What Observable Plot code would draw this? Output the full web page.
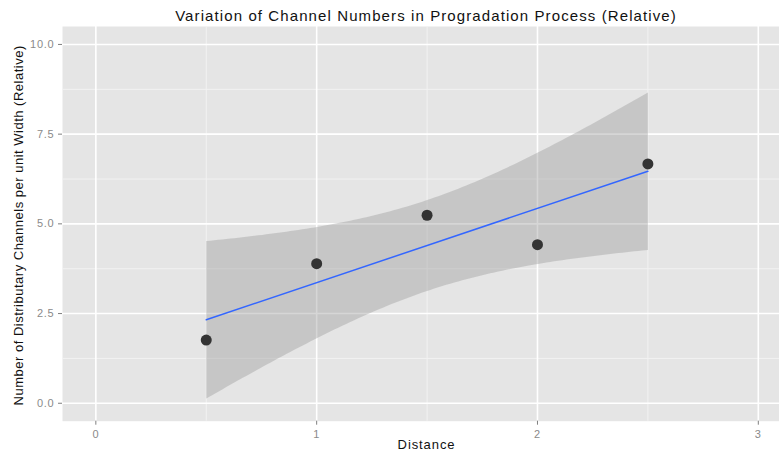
<!DOCTYPE html>
<html><head><meta charset="utf-8">
<script src="https://cdn.jsdelivr.net/npm/d3@7"></script>
<script src="https://cdn.jsdelivr.net/npm/@observablehq/plot@0.6"></script>
<style>
body{margin:0;background:#fff;font-family:"Liberation Sans",Arial,sans-serif;}
#title{box-sizing:border-box;width:779px;height:26px;padding-left:73px;padding-top:8px;line-height:15px;font-size:15px;letter-spacing:1.1px;text-align:center;color:#111;white-space:nowrap;}
svg{display:block;}
</style></head><body>
<div id="title">Variation of Channel Numbers in Progradation Process (Relative)</div>
<div id="chart"></div>
<script>
const distance = [0.5, 1, 1.5, 2, 2.5];
const channels = [1.76, 3.89, 5.24, 4.42, 6.67];
const xTicks = [0, 1, 2, 3];
const yTicks = [0, 2.5, 5, 7.5, 10];
const xMinor = [0.5, 1.5, 2.5];
const yMinor = [1.25, 3.75, 6.25, 8.75];
const xTitle = "Distance";
const yTitle = "Number of Distributary Channels per unit Width (Relative)";

const data = distance.map((d, i) => ({distance: d, channels: channels[i]}));

const chart = Plot.plot({
  width: 779,
  height: 428,
  marginLeft: 62,
  marginRight: 0,
  marginTop: 0,
  marginBottom: 33.3,
  style: {fontFamily: "'Liberation Sans', Arial, sans-serif", background: "white", overflow: "visible"},
  x: {domain: [-0.151, 3.096]},
  y: {domain: [-0.5, 10.5]},
  marks: [
    Plot.frame({fill: "#E5E5E5", stroke: "none"}),
    Plot.ruleX(xMinor, {stroke: "#F2F2F2", strokeWidth: 1}),
    Plot.ruleY(yMinor, {stroke: "#F2F2F2", strokeWidth: 1}),
    Plot.ruleX(xTicks, {stroke: "#FFFFFF", strokeWidth: 1.6}),
    Plot.ruleY(yTicks, {stroke: "#FFFFFF", strokeWidth: 1.6}),
    Plot.linearRegressionY(data, {x: "distance", y: "channels", ci: 0.95, stroke: "#3366FF", strokeWidth: 1.5, fill: "#999999", fillOpacity: 0.4}),
    Plot.dot(data, {x: "distance", y: "channels", r: 5.5, fill: "#333333", stroke: "none"}),
    Plot.axisX({ticks: xTicks, tickFormat: d3.format("d"), tickSize: 4, tickPadding: 5, fontSize: 11, fill: "#8A8A8A", stroke: "#7F7F7F", label: null}),
    Plot.axisY({ticks: yTicks, tickFormat: d3.format(".1f"), tickSize: 4, tickPadding: 4, fontSize: 11, fill: "#8A8A8A", stroke: "#7F7F7F", label: null}),
    Plot.text([xTitle], {frameAnchor: "bottom", dx: 5.5, dy: 27.3, lineAnchor: "bottom", fontSize: 13, fill: "#111"}),
    Plot.text([yTitle], {frameAnchor: "left", dx: -44, dy: 1.5, rotate: -90, textAnchor: "middle", lineAnchor: "middle", fontSize: 13, fill: "#111"})
  ]
});
d3.select(chart).selectAll("text").style("letter-spacing", "0.07em");
d3.select(chart).selectAll("text").filter(function() { return this.textContent === yTitle; }).style("letter-spacing", "0.5px");
document.getElementById("chart").appendChild(chart);
</script>
</body></html>
